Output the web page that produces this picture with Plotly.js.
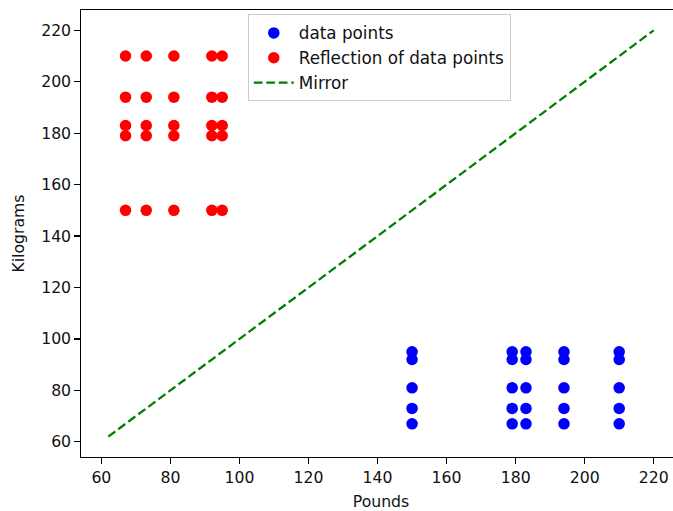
<!DOCTYPE html>
<html>
<head>
<meta charset="utf-8">
<script src="https://cdn.plot.ly/plotly-3.0.1.min.js"></script>
<style>html,body{margin:0;padding:0;background:#fff;overflow:hidden}#chart{width:683px;height:511px}</style>
</head>
<body>
<div id="chart"></div>
<script>
// Data points (pounds, kilograms)
const pounds = [150,150,150,150,150, 179,179,179,179,179, 183,183,183,183,183, 194,194,194,194,194, 210,210,210,210,210];
const kilograms = [67,73,81,92,95, 67,73,81,92,95, 67,73,81,92,95, 67,73,81,92,95, 67,73,81,92,95];
// Reflection across y = x
const reflX = kilograms.slice();
const reflY = pounds.slice();
// Mirror line endpoints
const mirrorX = [62, 220];
const mirrorY = [62, 220];
const xTicks = [60,80,100,120,140,160,180,200,220];
const yTicks = [60,80,100,120,140,160,180,200,220];

const font = {family: 'DejaVu Sans, sans-serif', size: 15.7, color: '#111'};
const legendFont = {family: 'DejaVu Sans, sans-serif', size: 16.8, color: '#111'};

const traces = [
  {x: pounds, y: kilograms, mode: 'markers', type: 'scatter', name: 'data points',
   legendgroup: 'a', marker: {color: '#0000ff', size: 11.5}},
  {x: reflX, y: reflY, mode: 'markers', type: 'scatter', name: 'Reflection of data points',
   legendgroup: 'b', marker: {color: '#ff0000', size: 11.5}},
  {x: mirrorX, y: mirrorY, mode: 'lines', type: 'scatter', name: 'Mirror',
   legendgroup: 'c', line: {color: '#008000', width: 2.3, dash: '8.7px,3.8px'}}
];

const axisCommon = {
  showgrid: false, zeroline: false, showline: true, linecolor: '#000', linewidth: 1.25,
  mirror: true, ticks: 'outside', ticklen: 5.5, tickcolor: '#000', tickwidth: 1.25,
  tickfont: font, automargin: false
};

const layout = {
  width: 683, height: 511,
  margin: {l: 81, r: 2, t: 10, b: 54},
  paper_bgcolor: '#fff', plot_bgcolor: '#fff',
  font: font,
  showlegend: true,
  xaxis: Object.assign({}, axisCommon, {range: [54.1, 227.9], tickvals: xTicks,
    title: {text: 'Pounds', font: font, standoff: 10}}),
  yaxis: Object.assign({}, axisCommon, {range: [54.1, 227.9], tickvals: yTicks,
    title: {text: 'Kilograms', font: font, standoff: 12}}),
  legend: {x: 0.278, y: 0.99, xanchor: 'left', yanchor: 'top',
    bgcolor: 'rgba(255,255,255,0.8)', bordercolor: '#cccccc', borderwidth: 1,
    font: legendFont, tracegroupgap: 1, itemwidth: 40, traceorder: 'normal'}
};

Plotly.newPlot('chart', traces, layout, {displayModeBar: false, staticPlot: true});
</script>
</body>
</html>
